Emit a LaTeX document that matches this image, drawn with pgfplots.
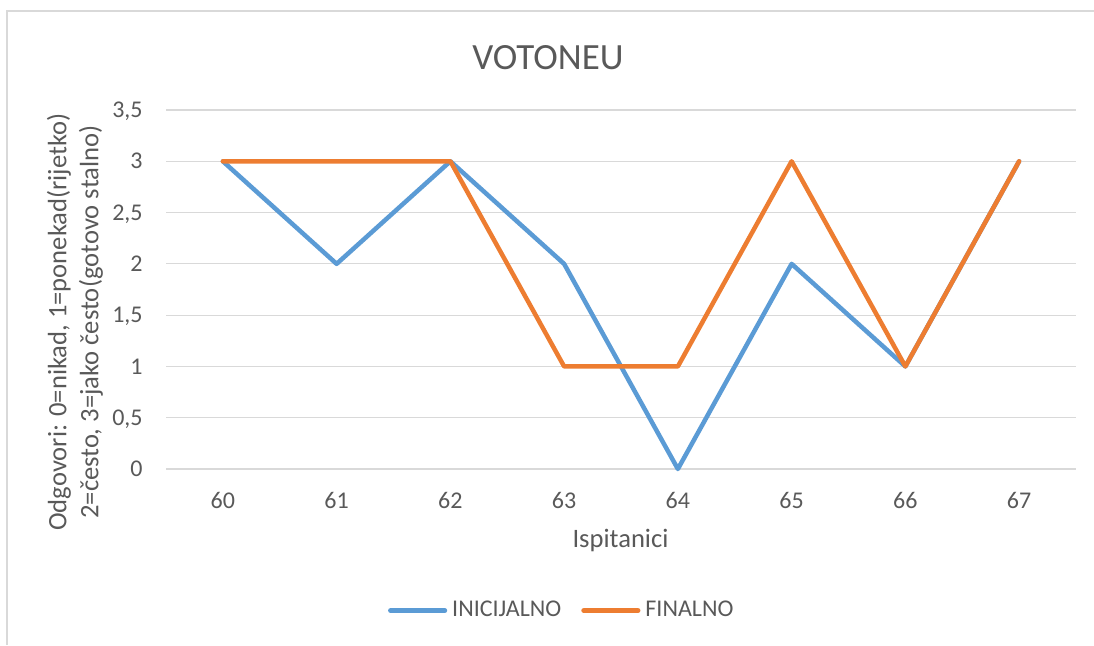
\documentclass[border=0pt]{standalone}
\usepackage{pgfplots}
\pgfplotsset{compat=1.18}
\usepackage{fontspec}
\setmainfont{Carlito}
\definecolor{serA}{HTML}{5B9BD5}
\definecolor{serB}{HTML}{ED7D31}
\definecolor{gridc}{HTML}{D9D9D9}
\definecolor{txt}{HTML}{595959}
\begin{document}
\begin{tikzpicture}
\path[use as bounding box] (0,0) rectangle (547pt,322.5pt);
\draw[gridc, line width=0.75pt] (3.5pt,0) -- (3.5pt,317pt) -- (547pt,317pt);
\begin{axis}[
  at={(83pt,88pt)}, anchor=south west,
  scale only axis, width=455pt, height=179.5pt,
  xmin=59.5, xmax=67.5, ymin=0, ymax=3.5,
  xtick={60,61,62,63,64,65,66,67},
  ytick={0,0.5,1,1.5,2,2.5,3,3.5},
  ymajorgrids, grid style={gridc, line width=0.6pt},
  axis line style={draw=none},
  major tick length=0pt,
  /pgf/number format/assume math mode=true,
  /pgf/number format/use comma,
  xticklabel style={font=\fontsize{12}{14}\selectfont, text=txt, anchor=base, inner sep=0pt, yshift=-19.5pt},
  yticklabel style={font=\fontsize{12}{14}\selectfont, text=txt, anchor=base east, inner sep=0pt, xshift=-11.5pt, yshift=-3.8pt},
  legend columns=2,
  legend style={at={(0.2440,-0.3944)}, anchor=west, draw=none, fill=none,
    inner sep=0pt, outer sep=0pt,
    font=\fontsize{12}{14}\selectfont, text=txt,
    nodes={inner sep=0pt},
    /tikz/every odd column/.append style={column sep=2.5pt},
    /tikz/every even column/.append style={column sep=10pt}},
  legend image code/.code={\draw[#1, line width=2.6pt, line cap=round] (0pt,0pt) -- (27pt,0pt);},
  clip=false,
]
\addplot[serA, line width=2.25pt, line join=round, line cap=round] coordinates {
  (60,3) (61,2) (62,3) (63,2) (64,0) (65,2) (66,1) (67,3)};
\addlegendentry{INICIJALNO}
\addplot[serB, line width=2.25pt, line join=round, line cap=round] coordinates {
  (60,3) (61,3) (62,3) (63,1) (64,1) (65,3) (66,1) (67,3)};
\addlegendentry{FINALNO}
\end{axis}
\node[text=txt, font=\fontsize{18.5}{22}\selectfont, inner sep=0pt] at (274pt,293.75pt) {VOTONEU};
\node[text=txt, font=\fontsize{13.3}{16}\selectfont, inner sep=0pt, anchor=base] at (310.25pt,49pt) {Ispitanici};
\node[text=txt, font=\fontsize{13.3}{16}\selectfont, inner sep=0pt, rotate=90, align=center] at (37.5pt,161.5pt) {Odgovori: 0=nikad, 1=ponekad(rijetko)\\2=često, 3=jako često(gotovo stalno)};
\end{tikzpicture}
\end{document}
